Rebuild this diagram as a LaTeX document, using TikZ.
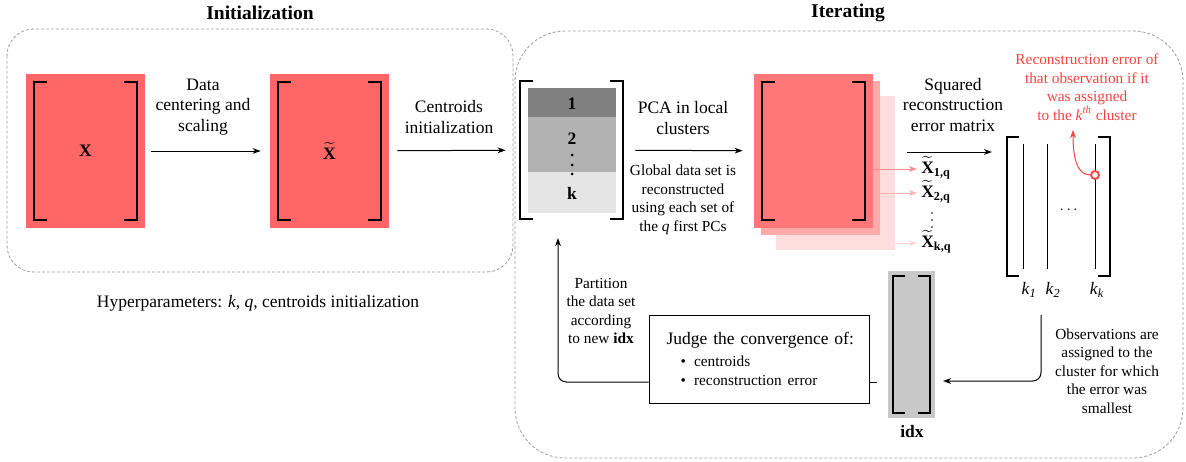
\documentclass[tikz,border=0pt]{standalone}
\usepackage{amsmath}
\usepackage{fontspec}
\setmainfont{Liberation Serif}
\usetikzlibrary{arrows.meta, calc}
\definecolor{matred}{RGB}{255,102,102}
\definecolor{stackred1}{RGB}{255,119,119}
\definecolor{stackred2}{RGB}{255,170,170}
\definecolor{stackred3}{RGB}{255,221,221}
\definecolor{pink1}{RGB}{255,140,140}
\definecolor{pink2}{RGB}{255,180,180}
\definecolor{pink3}{RGB}{255,212,212}
\definecolor{errred}{RGB}{250,65,65}
\definecolor{framegray}{RGB}{160,160,160}
\definecolor{idxgray}{RGB}{200,200,200}

\begin{document}
\begin{tikzpicture}[x=0.6pt, y=-0.6pt,
  txt/.style={font=\fontsize{10.5}{12.3}\selectfont, align=center, inner sep=0pt},
  smalltxt/.style={font=\fontsize{9.2}{11.1}\selectfont, align=center, inner sep=0pt},
  title/.style={font=\fontsize{11.7}{14}\selectfont\bfseries, inner sep=0pt},
  phase/.style={draw=framegray, dash pattern=on 1.8pt off 1.2pt, line width=0.5pt},
  matnode/.style={minimum width=71.4pt, minimum height=92.4pt, inner sep=0pt, font=\fontsize{10.5}{12.3}\selectfont\bfseries},
  reclabel/.style={txt, anchor=west, text height=8pt, text depth=2.5pt},
  flow/.style={-{Stealth[length=4.8pt, width=3.4pt, inset=1.4pt]}, line width=0.6pt},
]
  \useasboundingbox (0,0) rectangle (1186,461);

  % Phase frames
  \draw[phase, rounded corners=16pt] (7,29) rectangle (513,272);
  \draw[phase, rounded corners=30pt] (515,31) rectangle (1183,458);
  \node[title] (tinit) at (260,13) {Initialization};
  \node[title] (titer) at (848,13) {Iterating};

  % Initialization
  \node[matnode, fill=matred] (X) at (85.5,151) {X};
  \node[matnode, fill=matred] (Xt) at (329.5,151) {$\widetilde{\text{X}}$};
  \node[txt] (lscale) at (203,107) {Data\\centering and\\scaling};
  \node[txt] (lcent) at (449,117) {Centroids\\initialization};
  \node[txt] (hyper) at (258,303) {Hyperparameters: \textit{k}, \textit{q}, centroids initialization};

  % Local clusters
  \node[matnode] (C) at (571.5,150) {};
  \fill[black!50] (528,88) rectangle (616,117);
  \fill[black!30] (528,117) rectangle (616,172);
  \fill[black!10] (528,172) rectangle (616,213);
  \node[txt] (c1) at (572,104) {\bfseries 1};
  \node[txt] (c2) at (572,139) {\bfseries 2};
  \node[txt] (ck) at (572,193) {\bfseries k};
  \foreach \y in {155,165,174}
    \fill (572,\y) circle (0.9pt);

  % Reconstructions
  \node[matnode, fill=stackred3] (P3) at (835.5,173) {};
  \node[matnode, fill=stackred2] (P2) at (820.5,157.5) {};
  \node[matnode, fill=stackred1] (P1) at (813.5,151) {};
  \node[txt] (lpca) at (683,118) {PCA in local\\clusters};
  \node[smalltxt] (lglob) at (683,200) {Global data set is\\reconstructed\\using each set of\\the \textit{q} first PCs};
  \node[reclabel] (X1q) at (921,169) {$\widetilde{\text{\bfseries X}}_{\text{\bfseries 1,q}}$};
  \node[reclabel] (X2q) at (921,193) {$\widetilde{\text{\bfseries X}}_{\text{\bfseries 2,q}}$};
  \node[reclabel] (Xkq) at (921,243) {$\widetilde{\text{\bfseries X}}_{\text{\bfseries k,q}}$};
  \foreach \y in {213,220,227}
    \fill (932,\y) circle (0.5pt);
  \draw[flow, color=pink1, shorten >=2.4pt] (P1.east |- X1q.west) -- (X1q.west);
  \draw[flow, color=pink2, shorten >=2.4pt] (P2.east |- X2q.west) -- (X2q.west);
  \draw[flow, color=pink3, shorten >=2.4pt] (P3.east |- Xkq.west) -- (Xkq.west);

  % Error matrix
  \node[matnode, minimum height=93pt] (E) at (1058.5,206.5) {};
  \foreach \x/\n in {1023/e1, 1047/e2, 1095/ek}
    \draw[line width=0.6pt] (\x,144) coordinate (\n) -- (\x,269);
  \node[smalltxt] (edots) at (1070,210) {$\cdots$};
  \node[txt] (lk1) at (1029,290) {\textit{k}$_{\text{\itshape 1}}$};
  \node[txt] (lk2) at (1053,290) {\textit{k}$_{\text{\itshape 2}}$};
  \node[txt] (lkk) at (1097,290) {\textit{k}$_{\text{\itshape k}}$};
  \node[txt] (lsq) at (953,105) {Squared\\reconstruction\\error matrix};
  \coordinate (sqs) at (907,152);
  \coordinate (sqe) at (992,152);

  % Brackets
  \foreach \m/\d/\s in {X/8/13, Xt/8/13, C/8/13, P1/8/13, E/8/12} {
    \draw[line width=1.2pt] ($(\m.north west)+(\d+\s,\d)$) -| ($(\m.south west)+(\d,-\d)$) -- ++(\s,0);
    \draw[line width=1.2pt] ($(\m.north east)+(-\d-\s,\d)$) -| ($(\m.south east)+(-\d,-\d)$) -- ++(-\s,0);
  }

  % Main flow
  \draw[flow, shorten <=3.6pt, shorten >=5.4pt] (X) -- (Xt);
  \draw[flow, shorten <=4.8pt, shorten >=3.6pt] (Xt) -- (C);
  \draw[flow, shorten <=2.4pt, shorten >=6.6pt] (C) -- (P1);
  \draw[flow] (sqs) -- (sqe);

  % Error of one observation
  \node[circle, draw=errred, fill=white, line width=1.1pt, minimum size=4.8pt, inner sep=0pt] (err) at (1095,175) {};
  \node[smalltxt, text=errred] (lrec) at (1087,87) {Reconstruction error of\\that observation if it\\was assigned\\to the \textit{k}\textsuperscript{\textit{th}} cluster};
  \coordinate (rtip) at (1073,130);
  \draw[flow, color=errred] (err.west) .. controls (1076,175) and (1073,155) .. (rtip);

  % Assignment
  \node[fill=idxgray, minimum width=28.2pt, minimum height=88.2pt, inner sep=0pt] (idx) at (911.5,344.5) {};
  \foreach \m/\d/\s in {idx/5/12} {
    \draw[line width=1.2pt] ($(\m.north west)+(\d+\s,\d)$) -| ($(\m.south west)+(\d,-\d)$) -- ++(\s,0);
    \draw[line width=1.2pt] ($(\m.north east)+(-\d-\s,\d)$) -| ($(\m.south east)+(-\d,-\d)$) -- ++(-\s,0);
  }
  \node[txt] (lidx) at (912,432) {\bfseries idx};
  \coordinate (obs) at (1041,315);
  \coordinate (idxin) at (943,381);
  \draw[flow, rounded corners=5pt] (obs) |- (idxin);
  \node[smalltxt] (lobs) at (1107,371) {Observations are\\assigned to the\\cluster for which\\the error was\\smallest};

  % Convergence check
  \node[draw, line width=0.6pt, minimum width=132pt, minimum height=52.8pt, text width=118pt, inner xsep=7pt, align=left, font=\fontsize{10.5}{11.4}\selectfont] (J) at (759,359) {\hspace*{3.6pt}Judge the convergence of:\\[1.8pt]
    {\fontsize{9.2}{11.4}\selectfont\hspace*{12pt}\textbullet\hspace{4.8pt}centroids\\
    \hspace*{12pt}\textbullet\hspace{4.8pt}reconstruction error}};
  \coordinate (idxout) at (877,382);
  \coordinate (cin) at (558,238);
  \draw[line width=0.6pt] (idxout) -- (idxout -| J.east);
  \draw[flow, rounded corners=5pt] (J.west |- idxout) -| (cin);
  \node[smalltxt] (lpart) at (601,311) {Partition\\the data set\\according\\to new \textbf{idx}};
\end{tikzpicture}
\end{document}
